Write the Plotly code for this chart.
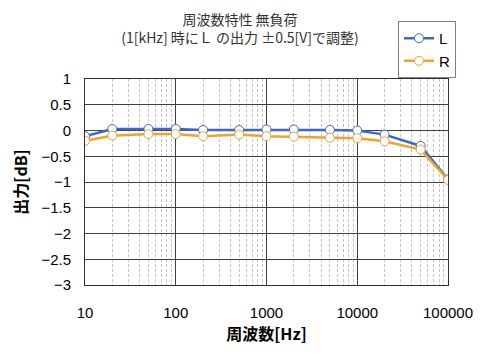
import plotly.graph_objects as go

freq = [10, 20, 50, 100, 200, 500, 1000, 2000, 5000, 10000, 20000, 50000, 100000]
L_db = [-0.11, 0.03, 0.03, 0.03, 0.01, 0.01, 0.02, 0.02, 0.01, 0.0, -0.08, -0.3, -0.95]
R_db = [-0.2, -0.1, -0.07, -0.07, -0.11, -0.08, -0.11, -0.12, -0.14, -0.15, -0.21, -0.37, -0.96]
x_ticks = [10, 100, 1000, 10000, 100000]
x_ticktext = ["10", "100", "1000", "10000", "100000"]
y_ticks = [1, 0.5, 0, -0.5, -1, -1.5, -2, -2.5, -3]

FONT = "Liberation Sans, Arial, Noto Sans CJK JP"
JP = "Noto Sans CJK JP, Liberation Sans"

minor_vals = [m * 10 ** d for d in range(1, 5) for m in range(2, 10)]

fig = go.Figure()
fig.add_trace(go.Scatter(
    x=freq, y=L_db, name="L", mode="lines+markers",
    line=dict(color="#3B67D4", width=2.5),
    marker=dict(symbol="circle", size=9, color="white", line=dict(color="#3B67D4", width=1))))
fig.add_trace(go.Scatter(
    x=freq, y=R_db, name="R", mode="lines+markers",
    line=dict(color="#F0A32A", width=2.5),
    marker=dict(symbol="circle", size=9, color="white", line=dict(color="#F0A32A", width=1))))

fig.update_layout(
    width=480, height=358,
    margin=dict(l=85, r=32, t=79, b=73, autoexpand=False),
    paper_bgcolor="white", plot_bgcolor="white",
    font=dict(family=FONT, size=15, color="#000000"),
    title=dict(
        text="周波数特性 無負荷<br>(1[kHz] 時にＬ の出力 ±0.5[V]で調整)",
        x=0.5, xanchor="center", y=1 - 25 / 358, yanchor="middle",
        font=dict(family=JP, size=14, color="#333333")),
    legend=dict(
        xref="container", yref="container",
        x=398 / 480, y=1 - 21 / 358, xanchor="left", yanchor="top",
        bordercolor="#808080", borderwidth=1, bgcolor="white",
        font=dict(family=FONT, size=15), itemwidth=30,
        tracegroupgap=0),
    xaxis=dict(
        type="log", range=[1, 5], tickvals=x_ticks, ticktext=x_ticktext,
        showgrid=True, gridcolor="#404040", gridwidth=1,
        showline=True, linecolor="#303030", linewidth=1, mirror=True,
        ticks="", ticklabelstandoff=14,
        minor=dict(tickvals=minor_vals, showgrid=True, gridcolor="#C4C4C4",
                   griddash="3px,2px", gridwidth=1, ticks=""),
        title=dict(text="<b>周波数[Hz]</b>", font=dict(family=JP, size=16), standoff=5),
        tickfont=dict(size=15),
        zeroline=False),
    yaxis=dict(
        range=[-3, 1], tickvals=y_ticks, showgrid=True, gridcolor="#404040",
        gridwidth=1, showline=True, linecolor="#303030", linewidth=1, mirror=True,
        ticks="", zeroline=False, ticklabelstandoff=10,
        title=dict(text="<b>出力[dB]</b>", font=dict(family=JP, size=16), standoff=9),
        tickfont=dict(size=15)),
)

fig.write_html("out.html", config={"displayModeBar": False},
               post_script="document.body.style.margin='0px';document.body.style.overflow='hidden';")
